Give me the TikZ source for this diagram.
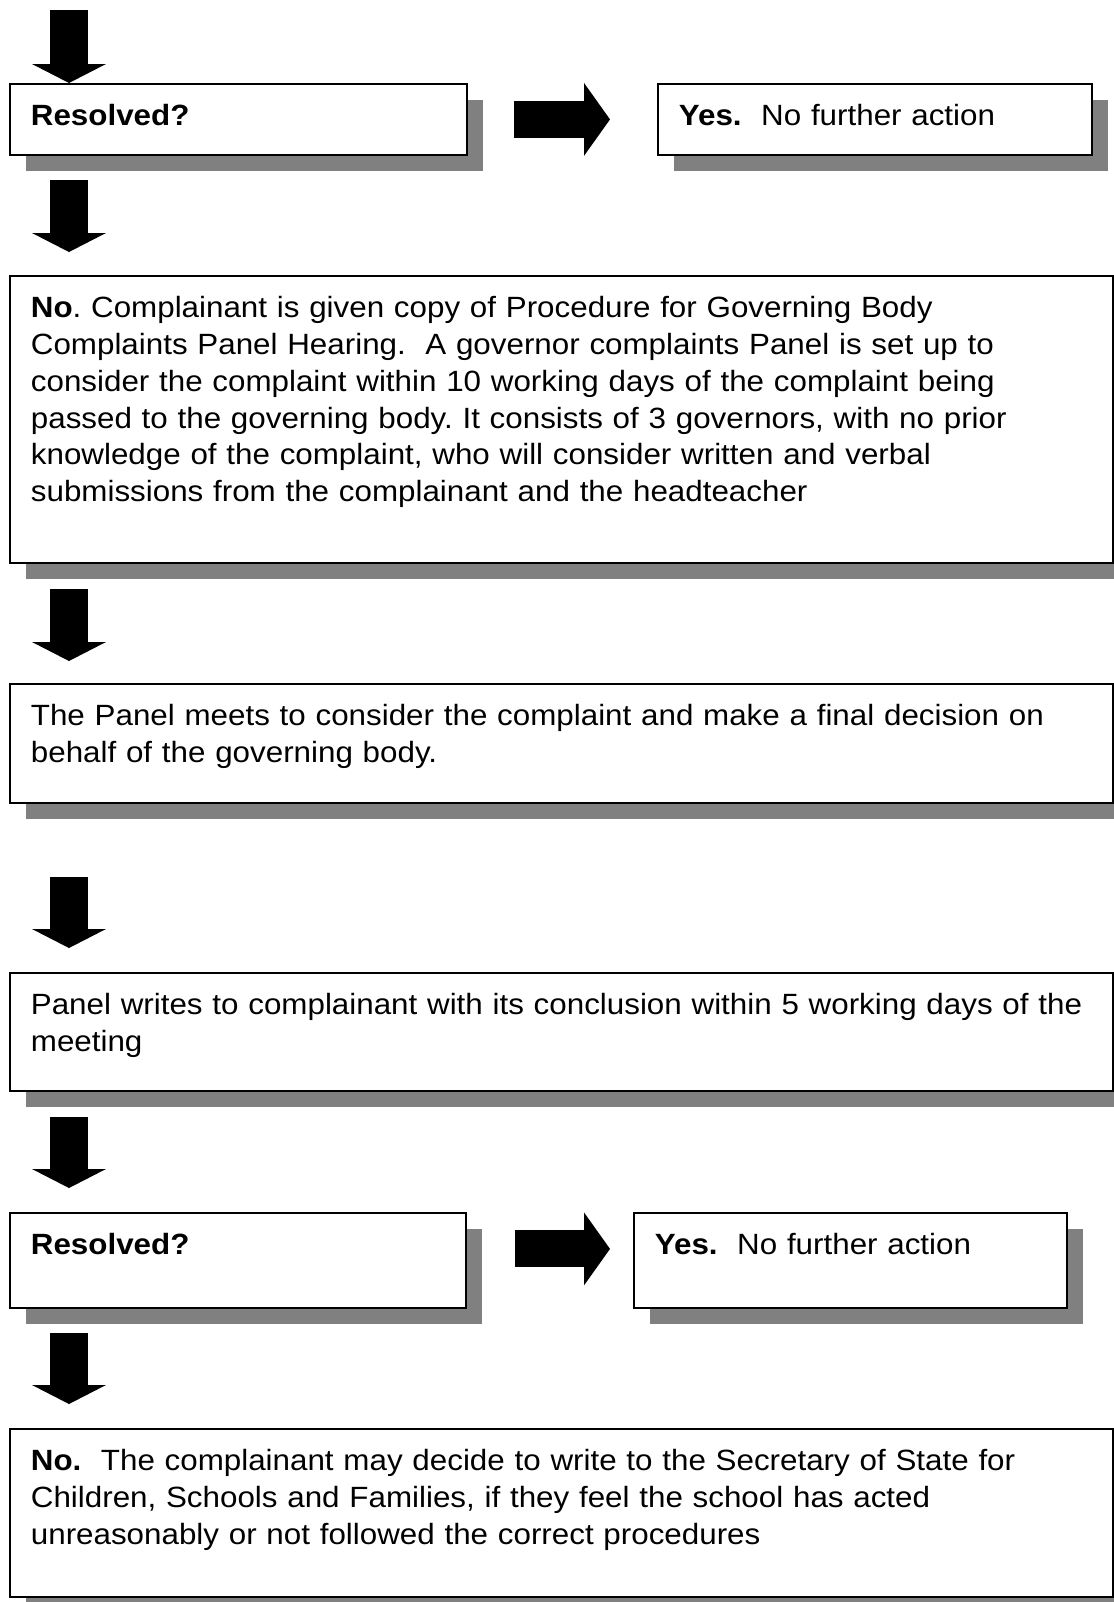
\documentclass[tikz,border=0pt]{standalone}
\usepackage{fontspec}
\setmainfont{Liberation Sans}[FakeStretch=1.07]
\usetikzlibrary{arrows.meta,shadows}
\frenchspacing
\begin{document}
\begin{tikzpicture}[x=0.5pt, y=-0.5pt,
    stage/.style={draw, line width=0.9pt, fill=white, anchor=north west, align=left,
      inner xsep=10.5pt, inner ysep=0pt, text height=21pt,
      font=\fontsize{14.65pt}{18.35pt}\selectfont,
      drop shadow={shadow xshift=8pt, shadow yshift=-8pt, fill=black!50, opacity=1}},
    downarrow/.style={line width=19pt, -{Triangle[length=9.5pt, width=37pt, line width=0pt]}},
    rightarrow/.style={line width=18.5pt, -{Triangle[length=13pt, width=36.5pt, line width=0pt]}}]
    \useasboundingbox (0,0) rectangle (1114,1602);

    % First question
    \coordinate (top) at (69,10);
    \node[stage, text width=207.5pt, text depth=14.5pt] (resolvedA) at (9,83) {\textbf{Resolved?}};
    \node[stage, text width=196pt, text depth=14.5pt] (okA) at (657,83) {\textbf{Yes.}\ \ No further action};

    % Panel set up
    \node[stage, text width=530.5pt, text depth=122.5pt] (hearing) at (9,275)
        {\textbf{No}. Complainant is given copy of Procedure for Governing Body\\
         Complaints Panel Hearing.\ \ A governor complaints Panel is set up to\\
         consider the complaint within 10 working days of the complaint being\\
         passed to the governing body. It consists of 3 governors, with no prior\\
         knowledge of the complaint, who will consider written and verbal\\
         submissions from the complainant and the headteacher};

    % Meeting and letter
    \node[stage, text width=530.5pt, text depth=38.5pt] (meeting) at (9,683)
        {The Panel meets to consider the complaint and make a final decision on\\
         behalf of the governing body.};
    \node[stage, text width=530.5pt, text depth=38pt] (letter) at (9,972)
        {Panel writes to complainant with its conclusion within 5 working days of the\\
         meeting};

    % Second question
    \node[stage, text width=207pt, text depth=26.5pt] (resolvedB) at (9,1212) {\textbf{Resolved?}};
    \node[stage, text width=195.5pt, text depth=26.5pt] (okB) at (633,1212) {\textbf{Yes.}\ \ No further action};

    % Secretary of State
    \node[stage, text width=530.5pt, text depth=63pt] (appeal) at (9,1428)
        {\textbf{No.}\ \ The complainant may decide to write to the Secretary of State for\\
         Children, Schools and Families, if they feel the school has acted\\
         unreasonably or not followed the correct procedures};

    % Arrows
    \draw[downarrow] (top) -- ([xshift=30pt]resolvedA.north west);
    \draw[rightarrow] ([xshift=23pt]resolvedA.east) -- ([xshift=-23.5pt]okA.west);
    \draw[downarrow] ([shift={(30pt,-12pt)}]resolvedA.south west) -- ([shift={(30pt,11.5pt)}]hearing.north west);
    \draw[downarrow] ([shift={(30pt,-12.5pt)}]hearing.south west) -- ([shift={(30pt,11pt)}]meeting.north west);
    \draw[downarrow] ([shift={(30pt,-36.5pt)}]meeting.south west) -- ([shift={(30pt,12pt)}]letter.north west);
    \draw[downarrow] ([shift={(30pt,-12.5pt)}]letter.south west) -- ([shift={(30pt,12pt)}]resolvedB.north west);
    \draw[rightarrow] ([shift={(24pt,5.75pt)}]resolvedB.east) -- ([shift={(-11.5pt,5.75pt)}]okB.west);
    \draw[downarrow] ([shift={(30pt,-12pt)}]resolvedB.south west) -- ([shift={(30pt,12pt)}]appeal.north west);
\end{tikzpicture}
\end{document}
